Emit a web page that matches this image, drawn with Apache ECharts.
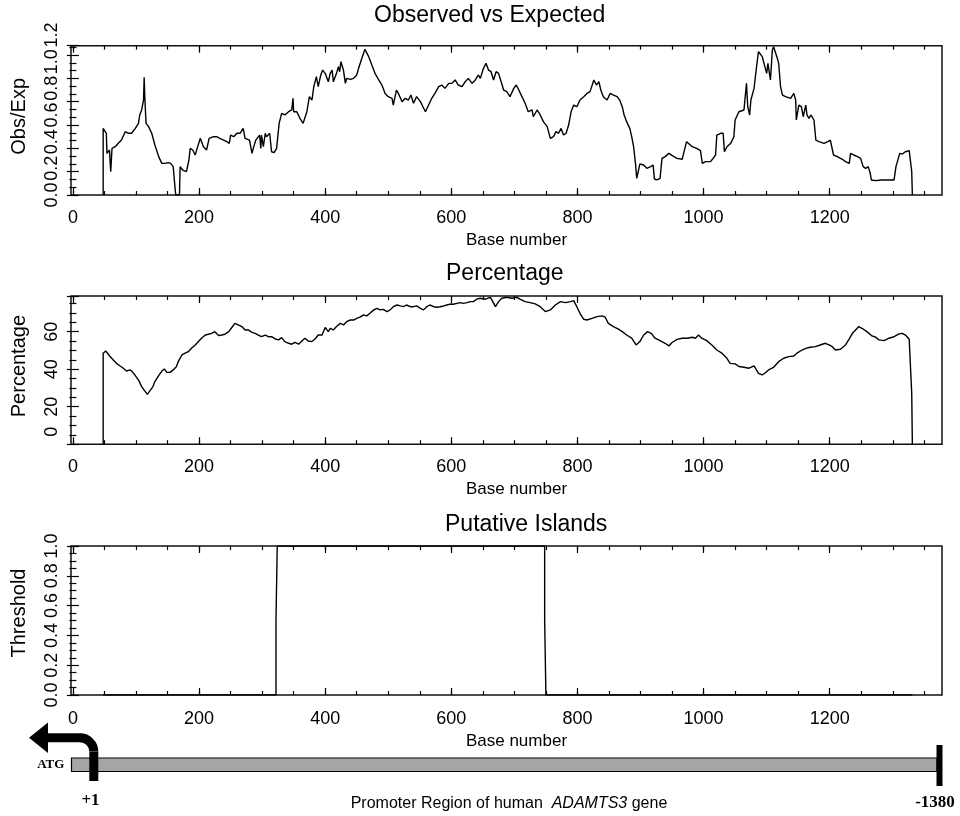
<!DOCTYPE html>
<html>
<head>
<meta charset="utf-8">
<title>CpG plot - ADAMTS3 promoter</title>
<script src="https://cdn.jsdelivr.net/npm/echarts@6/dist/echarts.min.js"></script>
<style>
  html, body { margin: 0; padding: 0; background: #fff; }
  #main { width: 960px; height: 816px; }
</style>
</head>
<body>
<div id="main"></div>
<script>
// base number ticks (shared by the three panels)
var xMajorTicks = [0, 200, 400, 600, 800, 1000, 1200];
var xMinorTicks = [0, 50, 100, 150, 200, 250, 300, 350, 400, 450, 500, 550, 600, 650,
  700, 750, 800, 850, 900, 950, 1000, 1050, 1100, 1150, 1200, 1250, 1300, 1350];

// [base number, obs/exp]
var obsExp = [[48,0],[48,0.571],[51,0.563],[53,0.529],[54,0.357],[56,0.371],[58,0.386],[60,0.2],[62,0.4],
  [67,0.414],[72,0.443],[77,0.471],[83,0.543],[88,0.529],[93,0.529],[99,0.571],[104,0.614],[106,0.686],
  [109,0.729],[112,0.814],[113,1.009],[114,0.843],[116,0.614],[120,0.586],[125,0.529],[130,0.429],
  [136,0.329],[141,0.271],[146,0.271],[151,0.277],[155,0.271],[159,0.243],[162,0.243],[163,0],[169,0],
  [170,0.243],[174,0.214],[180,0.2],[184,0.3],[186,0.4],[190,0.386],[194,0.343],[197,0.4],[202,0.486],
  [207,0.414],[212,0.386],[216,0.486],[223,0.5],[228,0.5],[233,0.486],[239,0.471],[244,0.457],[248,0.443],
  [250,0.514],[255,0.5],[260,0.529],[265,0.529],[270,0.571],[273,0.486],[276,0.5],[280,0.471],[284,0.357],
  [286,0.4],[290,0.471],[296,0.514],[298,0.4],[299,0.514],[302,0.414],[305,0.529],[307,0.5],[312,0.529],
  [315,0.371],[319,0.363],[323,0.4],[326,0.414],[327,0.614],[331,0.7],[336,0.686],[342,0.714],[347,0.729],
  [349,0.829],[350,0.714],[355,0.714],[360,0.657],[365,0.614],[368,0.629],[371,0.714],[375,0.843],
  [379,0.814],[382,0.929],[386,1.014],[389,0.929],[393,1.029],[396,1.071],[400,1.043],[405,0.971],
  [408,1.043],[411,1.071],[413,0.971],[418,1.043],[421,1.1],[423,1.057],[425,1.143],[429,1.071],
  [432,0.957],[434,1.0],[440,0.991],[445,1.0],[450,1.029],[453,1.086],[458,1.171],[463,1.249],[469,1.186],
  [474,1.114],[479,1.043],[485,0.986],[490,0.943],[495,0.871],[500,0.843],[506,0.829],[508,0.771],
  [513,0.9],[516,0.871],[522,0.8],[527,0.829],[532,0.814],[536,0.857],[540,0.786],[545,0.843],[551,0.8],
  [555,0.757],[559,0.714],[564,0.771],[569,0.829],[574,0.871],[580,0.929],[585,0.943],[590,0.914],
  [596,0.957],[601,0.957],[606,0.986],[611,0.943],[617,0.929],[622,0.971],[627,1.0],[633,0.957],
  [638,0.986],[643,1.029],[646,1.0],[651,1.086],[655,1.129],[659,1.071],[663,1.057],[667,0.986],
  [671,1.057],[675,1.043],[679,0.971],[683,0.9],[688,0.886],[693,0.843],[699,0.914],[703,0.943],[707,0.9],
  [712,0.843],[717,0.786],[722,0.714],[728,0.729],[730,0.671],[736,0.729],[741,0.686],[746,0.629],
  [752,0.586],[757,0.486],[762,0.5],[766,0.543],[770,0.529],[774,0.571],[778,0.514],[782,0.529],[786,0.6],
  [790,0.714],[794,0.771],[799,0.757],[804,0.814],[810,0.843],[815,0.871],[820,0.886],[826,0.986],
  [830,0.943],[834,0.971],[837,0.9],[841,0.843],[847,0.814],[852,0.871],[857,0.857],[863,0.843],
  [867,0.814],[871,0.757],[874,0.686],[878,0.629],[883,0.571],[886,0.5],[889,0.414],[892,0.271],
  [894,0.143],[897,0.129],[899,0.266],[905,0.257],[910,0.229],[916,0.243],[920,0.257],[922,0.137],
  [926,0.129],[931,0.143],[934,0.314],[939,0.329],[945,0.357],[948,0.371],[953,0.329],[958,0.314],
  [966,0.306],[969,0.3],[973,0.457],[976,0.443],[982,0.414],[989,0.4],[995,0.38],[998,0.271],[1003,0.286],
  [1011,0.286],[1014,0.306],[1019,0.343],[1021,0.514],[1027,0.529],[1031,0.529],[1033,0.371],[1037,0.414],
  [1043,0.443],[1048,0.5],[1050,0.643],[1056,0.714],[1064,0.729],[1068,0.957],[1070,0.757],[1073,0.686],
  [1075,0.814],[1080,0.914],[1084,1.1],[1087,1.229],[1093,1.186],[1096,1.2],[1100,1.043],[1102,1.129],
  [1106,0.986],[1109,1.243],[1111,1.271],[1114,1.257],[1117,1.171],[1119,1.129],[1122,0.929],[1125,0.857],
  [1130,0.843],[1138,0.829],[1143,0.871],[1146,0.814],[1147,0.643],[1151,0.771],[1155,0.757],[1158,0.671],
  [1162,0.771],[1164,0.686],[1167,0.657],[1170,0.686],[1175,0.643],[1178,0.471],[1183,0.457],[1191,0.443],
  [1197,0.457],[1201,0.471],[1206,0.343],[1212,0.329],[1220,0.306],[1225,0.286],[1231,0.271],[1233,0.357],
  [1238,0.343],[1244,0.329],[1249,0.314],[1253,0.243],[1257,0.229],[1261,0.243],[1264,0.191],[1266,0.129],
  [1273,0.123],[1281,0.129],[1291,0.129],[1302,0.129],[1305,0.243],[1308,0.249],[1311,0.357],[1315,0.351],
  [1320,0.371],[1326,0.38],[1328,0.394],[1330,0.2],[1331,0]];

// [base number, percentage]
var percentage = [[48,0],[48,48.5],[52,49.7],[55,48.5],[59,46.7],[64,44.9],[69,43.1],[75,41.7],[80,40.5],
  [85,39.0],[91,39.6],[95,38.3],[99,36.6],[104,34.2],[109,30.7],[114,28.4],[118,26.6],[122,28.4],[127,30.7],
  [130,33.4],[136,36.6],[141,39.0],[145,40.1],[149,38.3],[154,38.3],[159,39.6],[164,41.3],[167,44.0],
  [173,47.6],[178,48.5],[183,49.3],[188,51.1],[194,52.9],[199,54.7],[204,56.5],[210,58.2],[215,58.6],
  [220,59.1],[225,60.0],[231,57.9],[236,58.2],[241,58.6],[247,60.0],[252,62.2],[257,64.4],[262,63.6],
  [268,62.7],[273,60.9],[278,60.9],[284,59.6],[289,59.1],[294,58.2],[299,57.3],[305,58.2],[310,57.3],
  [315,57.3],[321,56.1],[326,55.6],[331,56.8],[336,54.7],[342,53.8],[347,53.3],[352,54.3],[358,53.3],
  [363,55.0],[368,56.5],[373,55.0],[379,54.7],[384,56.1],[389,58.2],[395,58.2],[400,62.2],[405,60.0],
  [408,61.8],[413,60.9],[418,62.7],[424,64.4],[429,63.6],[434,65.3],[440,66.2],[445,66.2],[450,67.1],
  [455,67.7],[461,68.9],[466,68.4],[471,69.8],[477,71.6],[482,72.4],[487,71.6],[492,71.9],[498,70.7],
  [503,71.6],[508,73.3],[514,74.2],[519,73.7],[524,73.3],[529,74.2],[535,73.3],[540,73.3],[545,73.7],
  [551,72.4],[556,71.6],[561,73.3],[566,74.2],[572,73.3],[577,73.0],[582,73.3],[588,73.7],[593,74.2],
  [598,74.7],[603,74.6],[609,75.1],[614,75.5],[619,75.1],[625,75.5],[630,76.0],[635,76.0],[640,77.3],
  [646,77.8],[654,77.3],[662,78.3],[670,73.3],[675,76.0],[680,77.8],[688,78.3],[696,77.8],[704,78.3],
  [709,77.3],[717,76.0],[725,75.5],[733,74.8],[741,73.3],[749,70.7],[757,71.6],[765,74.2],[773,76.0],
  [781,75.5],[789,76.0],[794,76.5],[799,73.3],[804,69.8],[810,66.6],[815,66.2],[823,67.1],[831,68.0],
  [839,68.4],[844,67.7],[849,64.4],[857,62.7],[865,61.3],[871,60.0],[878,58.2],[886,56.5],[893,52.9],
  [899,54.7],[905,58.2],[911,60.0],[917,59.1],[923,56.5],[931,55.2],[939,53.8],[945,52.4],[950,54.2],
  [958,55.9],[966,56.5],[974,56.5],[982,57.0],[987,56.5],[992,58.2],[997,56.5],[1005,55.2],[1013,52.9],
  [1021,50.2],[1029,48.5],[1037,45.8],[1042,43.1],[1050,42.8],[1056,41.4],[1064,41.0],[1072,40.5],
  [1080,41.7],[1087,37.8],[1093,36.9],[1098,38.1],[1103,39.6],[1111,41.0],[1119,44.0],[1127,45.8],
  [1135,46.7],[1143,47.0],[1148,48.5],[1156,50.2],[1162,51.1],[1169,51.7],[1177,52.0],[1185,52.9],
  [1193,53.8],[1199,52.9],[1204,52.0],[1209,50.2],[1217,50.6],[1225,52.9],[1230,55.6],[1236,59.1],
  [1241,60.9],[1246,62.7],[1251,61.8],[1259,60.0],[1267,57.7],[1273,57.0],[1278,55.6],[1286,55.2],
  [1294,56.5],[1302,57.3],[1310,58.8],[1315,59.1],[1320,58.2],[1326,55.9],[1328,55.6],[1330,27.1],[1331,0]];

// [base number, threshold] for the putative islands panel
var islands = [[48,0],[322,0],[322,0.5],[324,0.5],[324,1],[748,1],[748,0.5],[750,0.5],[750,0],[1331,0]];

var FONT = '"Liberation Sans", Arial, sans-serif';
var SERIF = '"Liberation Serif", "Times New Roman", serif';
var tickStyle = {color: '#000', width: 1.2};

// four x axes per panel: long + short ticks, bottom + top, all pointing inwards
function xAxes(grid, labelMargin, nameGap) {
  function axis(pos, ticks, len, withLabels) {
    var a = {
      type: 'value', gridIndex: grid, position: pos, min: -3, max: 1378,
      axisLine: {show: false}, splitLine: {show: false},
      axisTick: {inside: true, length: len, customValues: ticks, lineStyle: tickStyle},
      axisLabel: {show: false}
    };
    if (withLabels) {
      a.axisLabel = {show: true, customValues: xMajorTicks, margin: labelMargin,
        fontSize: 18, fontFamily: FONT, color: '#000',
        formatter: function (v) { return String(v); }};
      a.name = 'Base number';
      a.nameLocation = 'middle';
      a.nameGap = nameGap;
      a.nameTextStyle = {fontSize: 17, fontFamily: FONT, color: '#000', padding: [0, 0, 0, 20]};
    }
    return a;
  }
  return [axis('bottom', xMajorTicks, 7, true), axis('bottom', xMinorTicks, 4, false),
          axis('top', xMajorTicks, 7, false), axis('top', xMinorTicks, 4, false)];
}

function yAxes(grid, max, interval, minorSplit, label, name, nameShift) {
  var base = {
    type: 'value', gridIndex: grid, min: 0, max: max, interval: interval,
    axisLine: {show: false}, splitLine: {show: false},
    axisTick: {inside: true, length: 6, lineStyle: tickStyle},
    minorTick: {show: true, splitNumber: minorSplit, length: 3.5, lineStyle: tickStyle}
  };
  var left = Object.assign({}, base, {
    position: 'left', name: name, nameLocation: 'middle', nameGap: 42,
    nameTextStyle: {fontSize: 20, fontFamily: FONT, color: '#000', padding: [0, 0, 0, nameShift]},
    axisLabel: label || {show: false}
  });
  var right = Object.assign({}, base, {position: 'right', axisLabel: {show: false}});
  return [left, right];
}

var yLabel = {rotate: 90, margin: 9.5, fontSize: 18, fontFamily: FONT, color: '#000'};
var titleStyle = {fontSize: 23, fontWeight: 'normal', fontFamily: FONT, color: '#000'};

var chart = echarts.init(document.getElementById('main'));

var option = {
  animation: false,
  backgroundColor: '#fff',
  title: [
    {text: 'Observed vs Expected', left: 374, top: 4.5, padding: 0, textAlign: 'left', textStyle: titleStyle},
    {text: 'Percentage', left: 446, top: 262, padding: 0, textAlign: 'left', textStyle: titleStyle},
    {text: 'Putative Islands', left: 445, top: 513, padding: 0, textAlign: 'left', textStyle: titleStyle}
  ],
  grid: [
    {left: 71, top: 45.7, width: 871, height: 149.3, show: true, borderColor: '#111', borderWidth: 1.5},
    {left: 71, top: 35, width: 871, height: 160, show: false},
    {left: 71, top: 296, width: 871, height: 148.2, show: true, borderColor: '#111', borderWidth: 1.5},
    {left: 71, top: 546, width: 871, height: 149, show: true, borderColor: '#111', borderWidth: 1.5}
  ],
  xAxis: [].concat(
    xAxes(0, 14, 36.5),
    [{type: 'value', gridIndex: 1, min: -3, max: 1378, show: false}],
    xAxes(2, 13.5, 36.5),
    xAxes(3, 15.5, 38)
  ),
  yAxis: [].concat(
    yAxes(0, 1.28, 0.2, 3, null, 'Obs/Exp', 8),
    [{type: 'value', gridIndex: 1, min: 0, max: 1.2, interval: 0.2,
      axisLine: {show: false}, axisTick: {show: false}, splitLine: {show: false},
      axisLabel: Object.assign({}, yLabel, {formatter: function (v) { return v.toFixed(1); }})}],
    yAxes(2, 79, 20, 4, Object.assign({}, yLabel, {
      showMaxLabel: false,
      formatter: function (v) { return v === 0 ? '{z|0}' : String(v); },
      rich: {z: {fontSize: 18, fontFamily: FONT, color: '#000', padding: [0, 0, 0, 25]}}
    }), 'Percentage', 8),
    yAxes(3, 1, 0.2, 4, Object.assign({}, yLabel, {
      formatter: function (v) { return v.toFixed(1); }
    }), 'Threshold', 15)
  ),
  series: [
    {name: 'Obs/Exp', type: 'line', xAxisIndex: 0, yAxisIndex: 0, data: obsExp,
     showSymbol: false, symbol: 'none', lineStyle: {color: '#000', width: 1.4}},
    {name: 'Percentage', type: 'line', xAxisIndex: 5, yAxisIndex: 3, data: percentage,
     showSymbol: false, symbol: 'none', lineStyle: {color: '#000', width: 1.4}},
    {name: 'Threshold', type: 'line', xAxisIndex: 9, yAxisIndex: 5, data: islands,
     showSymbol: false, symbol: 'none', lineStyle: {color: '#000', width: 1.4}}
  ],
  // promoter sketch under the plots
  graphic: [
    {type: 'rect', shape: {x: 71.5, y: 758, width: 865.5, height: 13.5},
     style: {fill: '#a6a6a6', stroke: '#000', lineWidth: 1.2}},
    {type: 'rect', shape: {x: 936.5, y: 745, width: 6, height: 41}, style: {fill: '#000'}},
    {type: 'line', shape: {x1: 93.8, y1: 781, x2: 93.8, y2: 751.6}, style: {stroke: '#000', lineWidth: 9}},
    {type: 'arc', shape: {cx: 80, cy: 751.6, r: 13.8, startAngle: -Math.PI / 2, endAngle: 0, clockwise: true},
     style: {stroke: '#000', fill: 'none', lineWidth: 9}},
    {type: 'line', shape: {x1: 80.5, y1: 737.8, x2: 46, y2: 737.8}, style: {stroke: '#000', lineWidth: 9}},
    {type: 'polygon', shape: {points: [[29, 737.8], [48, 722.5], [48, 753]]}, style: {fill: '#000'}},
    {type: 'text', x: 50.8, y: 764.7,
     style: {text: 'ATG', font: 'bold 13px ' + SERIF, fill: '#000',
             align: 'center', verticalAlign: 'middle', textAlign: 'center', textVerticalAlign: 'middle'}},
    {type: 'text', x: 90.5, y: 800.5,
     style: {text: '+1', font: 'bold 17px ' + SERIF, fill: '#000',
             align: 'center', verticalAlign: 'middle', textAlign: 'center', textVerticalAlign: 'middle'}},
    {type: 'text', x: 935, y: 803,
     style: {text: '-1380', font: 'bold 17px ' + SERIF, fill: '#000',
             align: 'center', verticalAlign: 'middle', textAlign: 'center', textVerticalAlign: 'middle'}},
    {type: 'text', x: 509, y: 804,
     style: {text: 'Promoter Region of human  {i|ADAMTS3} gene', font: '16px ' + FONT, fill: '#000',
             align: 'center', verticalAlign: 'middle', textAlign: 'center', textVerticalAlign: 'middle',
             rich: {i: {font: 'italic 16px ' + FONT, fill: '#000'}}}}
  ]
};

chart.setOption(option);
</script>
</body>
</html>
